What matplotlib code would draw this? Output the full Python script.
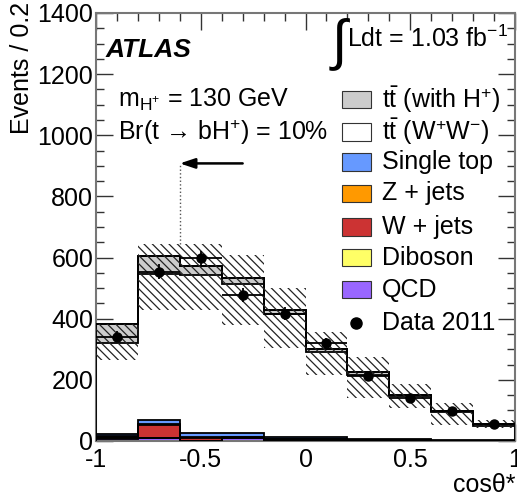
import numpy as np
import matplotlib
matplotlib.use("Agg")
import matplotlib.pyplot as plt
from matplotlib.patches import Rectangle

plt.rcParams['font.family'] = ['Liberation Sans', 'DejaVu Sans']
plt.rcParams['mathtext.fontset'] = 'custom'
plt.rcParams['mathtext.rm'] = 'Liberation Sans'
plt.rcParams['mathtext.it'] = 'Liberation Sans:italic'
plt.rcParams['mathtext.bf'] = 'Liberation Sans:bold'
plt.rcParams['hatch.linewidth'] = 0.9
plt.rcParams['hatch.color'] = '#222222'

# ---- data ----
bin_edges = np.round(np.linspace(-1.0, 1.0, 11), 2)
qcd        = [8, 10, 1, 9, 2, 2, 0.5, 0.5, 0.3, 0.3]
diboson    = [0.5, 1, 0.5, 0.5, 0.5, 0.5, 0.2, 0.2, 0.1, 0.1]
wjets      = [5, 40, 9, 2, 3, 3, 1, 1, 0.5, 0.5]
zjets      = [2, 3, 3, 2, 2, 2, 1, 1, 0.5, 0.5]
singletop  = [9, 14, 13, 12, 7, 7, 2.5, 2.5, 1, 1]
ttbar_ww   = [294.5, 478, 515.5, 487.5, 399.5, 275.5, 209.8, 140.8, 92.6, 47.6]
ttbar_hp   = [63, 60, 30, 19, 14, 12, 12, 4, 3, 4]
data_2011  = [341, 554, 597, 477, 417, 320, 214, 142, 98, 55]
band_lo    = [265, 428, 428, 379, 305, 216, 140, 107, 52, 41]
band_hi    = [382, 644, 644, 608, 499, 357, 276, 186, 123, 69]

stack_names = ["QCD", "Diboson", "W + jets", "Z + jets", "Single top",
               r"$\mathregular{t\bar{t}}$ (W$^{+}$W$^{-}$)",
               r"$\mathregular{t\bar{t}}$ (with H$^{+}$)"]
stack_vals = [qcd, diboson, wjets, zjets, singletop, ttbar_ww, ttbar_hp]
stack_cols = ["#9966ff", "#ffff66", "#cc3333", "#ff9900", "#6699ff", "#ffffff", "#cccccc"]

FS = 18

fig = plt.figure(figsize=(5.17, 4.99), dpi=100)
ax = fig.add_axes([96/517, 58/499, 419/517, 428/499])

centers = 0.5 * (bin_edges[:-1] + bin_edges[1:])
cum = np.zeros(len(centers))
for vals, col in zip(stack_vals, stack_cols):
    v = np.asarray(vals, float)
    top = cum + v
    ax.stairs(top, bin_edges, baseline=cum, fill=True, color=col, zorder=2)
    cum = top

cum = np.zeros(len(centers))
for vals in stack_vals:
    cum = cum + np.asarray(vals, float)
    ax.stairs(cum, bin_edges, baseline=None, color='black', lw=1.3, zorder=3)
ax.stairs(cum, bin_edges, baseline=0, color='black', lw=1.3, zorder=3)

# uncertainty band (hatched)
for i in range(len(centers)):
    ax.add_patch(Rectangle((bin_edges[i], band_lo[i]), bin_edges[i+1]-bin_edges[i],
                           band_hi[i]-band_lo[i], fill=False, hatch='\\\\\\\\',
                           lw=0, edgecolor='#222222', zorder=4))

# data
d = np.asarray(data_2011, float)
ax.errorbar(centers, d, xerr=0.1, yerr=np.sqrt(d), fmt='o', color='black',
            ms=6.5, lw=1.3, capsize=0, zorder=6)

# arrow and dotted line
ax.plot([-0.6, -0.6], [band_hi[2], 908], ls=':', color='#555555', lw=1, zorder=5)
ax.annotate('', xy=(-0.6, 908), xytext=(-0.3, 908),
            arrowprops=dict(arrowstyle='-|>,head_length=0.9,head_width=0.3',
                            color='black', lw=1.8, shrinkA=0, shrinkB=0), zorder=6)

ax.set_xlim(-1, 1)
ax.set_ylim(0, 1400)
ax.set_xticks([-1, -0.5, 0, 0.5, 1])
ax.set_xticklabels(['-1', '-0.5', '0', '0.5', '1'])
ax.set_xticks(np.arange(-1, 1.01, 0.1), minor=True)
ax.set_yticks(np.arange(0, 1401, 200))
ax.set_yticks(np.arange(0, 1401, 50), minor=True)
ax.tick_params(which='both', direction='in', top=True, right=True, labelsize=FS,
               color='#333333')
ax.tick_params(which='major', length=12, width=1)
ax.tick_params(which='minor', length=6, width=1)
ax.tick_params(axis='x', pad=5)
ax.tick_params(axis='y', pad=2)
for s in ax.spines.values():
    s.set_color('#777777')
    s.set_linewidth(1.5)

fig.text(22/517, 1 - 2/499, 'Events / 0.2', rotation=90, fontsize=FS,
         ha='center', va='top')
fig.text(1 - 2/517, 1 - 485/499, 'cos\u03b8*', fontsize=FS, ha='right', va='center')

# texts
ax.text(0.022, 0.914, 'ATLAS', transform=ax.transAxes, fontsize=19,
        fontweight='bold', fontstyle='italic', va='center')
ax.text(0.053, 0.797, r'm$_{\mathregular{H^{+}}}$ = 130 GeV', transform=ax.transAxes,
        fontsize=FS, va='center')
ax.text(0.053, 0.722, 'Br(t \u2192 bH$^{+}$) = 10%', transform=ax.transAxes,
        fontsize=FS, va='center')
ax.text(0.555, 0.925, r'$\int$', transform=ax.transAxes, fontsize=40, va='center')
ax.text(0.598, 0.94, r'Ldt = 1.03 fb$^{-1}$', transform=ax.transAxes,
        fontsize=FS, va='center')

# legend (manual)
leg_rows = [0.797, 0.722, 0.652, 0.579, 0.500, 0.428, 0.353, 0.276]
order = [6, 5, 4, 3, 2, 1, 0]
for row, k in zip(leg_rows, order):
    ax.add_patch(Rectangle((0.587, row - 0.02), 0.069, 0.04, transform=ax.transAxes,
                           facecolor=stack_cols[k], edgecolor='#333333', lw=0.8,
                           zorder=7))
    ax.text(0.683, row, stack_names[k], transform=ax.transAxes, fontsize=FS,
            va='center', zorder=7)
ax.plot([0.621], [leg_rows[-1]], 'o', color='black', ms=8, transform=ax.transAxes,
        zorder=7)
ax.text(0.683, leg_rows[-1], 'Data 2011', transform=ax.transAxes, fontsize=FS,
        va='center', zorder=7)

fig.savefig('out.png', dpi=100)
